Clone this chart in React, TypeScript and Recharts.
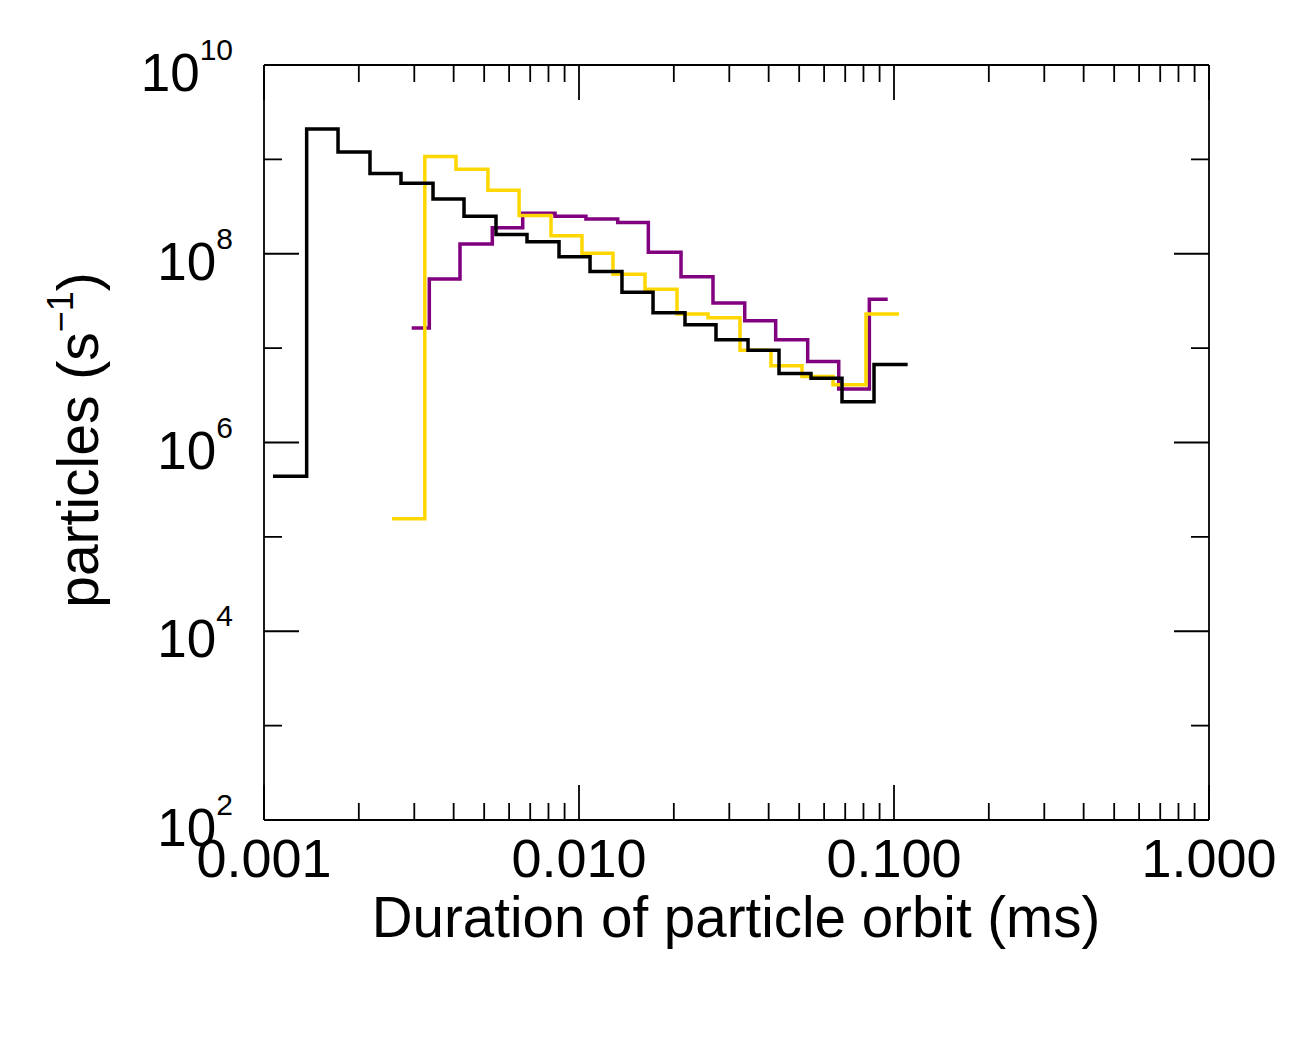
import { Label, Line, LineChart, XAxis, YAxis } from "recharts";

const FONT = "'Liberation Sans', Arial, Helvetica, sans-serif";

// Bin edges (ms) and counts (particles / s).
const blackEdges = [
  0.001068, 0.001366, 0.001718, 0.00217, 0.002722, 0.00344, 0.004315, 0.005451, 0.006838,
  0.008641, 0.01084, 0.01369, 0.01718, 0.0217, 0.02722, 0.0344, 0.04315, 0.05451, 0.06838,
  0.08641, 0.1105,
];
const blackCounts = [
  4.4e5, 2.1e9, 1.2e9, 7.1e8, 5.6e8, 3.8e8, 2.5e8, 1.6e8, 1.34e8, 9.3e7, 6.5e7, 3.9e7, 2.37e7,
  1.77e7, 1.23e7, 9.5e6, 5.4e6, 4.8e6, 2.7e6, 6.7e6,
];

const goldEdges = [
  0.002549, 0.00324, 0.004069, 0.00514, 0.006454, 0.008149, 0.01022, 0.01282, 0.0162, 0.02047,
  0.02568, 0.03244, 0.04069, 0.05104, 0.06403, 0.08149, 0.1037,
];
const goldCounts = [
  1.56e5, 1.07e9, 7.85e8, 4.7e8, 2.55e8, 1.55e8, 1.01e8, 6.05e7, 4.2e7, 2.3e7, 2.1e7, 9.5e6,
  6.5e6, 5.0e6, 4.1e6, 2.3e7,
];

const purpleEdges = [
  0.002944, 0.003348, 0.00419, 0.005306, 0.006627, 0.008392, 0.01052, 0.01327, 0.0166, 0.02108,
  0.02663, 0.03358, 0.04211, 0.05321, 0.06676, 0.08351, 0.09551,
];
const purpleCounts = [
  1.63e7, 5.4e7, 1.27e8, 1.89e8, 2.68e8, 2.5e8, 2.33e8, 2.15e8, 1.04e8, 5.7e7, 3.0e7, 1.95e7,
  1.23e7, 7.2e6, 3.7e6, 3.3e7,
];

const xMajor = [0.001, 0.01, 0.1, 1];
const xTicks = [
  0.001, 0.002, 0.003, 0.004, 0.005, 0.006, 0.007, 0.008, 0.009,
  0.01, 0.02, 0.03, 0.04, 0.05, 0.06, 0.07, 0.08, 0.09,
  0.1, 0.2, 0.3, 0.4, 0.5, 0.6, 0.7, 0.8, 0.9, 1,
];
const yMajor = [1e2, 1e4, 1e6, 1e8, 1e10];
const yTicks = [1e2, 1e3, 1e4, 1e5, 1e6, 1e7, 1e8, 1e9, 1e10];

// one point per left edge, plus the last right edge carrying the last count
function steps(edges: number[], counts: number[]) {
  return edges.map((x, i) => ({ x, y: counts[Math.min(i, counts.length - 1)] }));
}

const TICK = { stroke: "#000", strokeWidth: 1.8 };

function BottomTick({ x, y, payload }: any) {
  const major = xMajor.includes(payload.value);
  return (
    <g>
      <line x1={x} x2={x} y1={y} y2={y - (major ? 35 : 17)} {...TICK} />
      {major && (
        <text x={x} y={y + 57} textAnchor="middle" fontSize={54} fontFamily={FONT} fill="#000">
          {payload.value.toFixed(3)}
        </text>
      )}
    </g>
  );
}

function TopTick({ x, y, payload }: any) {
  const major = xMajor.includes(payload.value);
  return <line x1={x} x2={x} y1={y} y2={y + (major ? 35 : 17)} {...TICK} />;
}

function LeftTick({ x, y, payload }: any) {
  const major = yMajor.includes(payload.value);
  const exp = Math.round(Math.log10(payload.value));
  return (
    <g>
      <line x1={x} x2={x + (major ? 35 : 18)} y1={y} y2={y} {...TICK} />
      {major && (
        <text x={x - 31} y={y + 26} textAnchor="end" fontSize={53} fontFamily={FONT} fill="#000">
          10
          <tspan dy={-31} fontSize={30}>
            {exp}
          </tspan>
        </text>
      )}
    </g>
  );
}

function RightTick({ x, y, payload }: any) {
  const major = yMajor.includes(payload.value);
  return <line x1={x} x2={x - (major ? 35 : 18)} y1={y} y2={y} {...TICK} />;
}

function XTitle() {
  return (
    <text x={736} y={937} textAnchor="middle" fontSize={56.5} fontFamily={FONT} fill="#000">
      Duration of particle orbit (ms)
    </text>
  );
}

function YTitle() {
  return (
    <text
      transform="translate(98, 440) rotate(-90)"
      textAnchor="middle"
      fontSize={57}
      fontFamily={FONT}
      fill="#000"
    >
      particles (s
      <tspan dy={-25} fontSize={36}>
        {"\u22121"}
      </tspan>
      <tspan dy={25}>)</tspan>
    </text>
  );
}

export default function App() {
  const axisLine = { stroke: "#000", strokeWidth: 1.8 };
  return (
    <div style={{ position: "absolute", left: 0, top: 0, background: "#fff" }}>
      <LineChart width={1294} height={1039} margin={{ top: 64, right: 84, bottom: 218, left: 263 }}>
        <XAxis
          xAxisId="bottom"
          dataKey="x"
          type="number"
          scale="log"
          domain={[0.001, 1]}
          allowDataOverflow
          ticks={xTicks}
          interval={0}
          height={1}
          tickSize={0}
          tickMargin={0}
          tickLine={false}
          axisLine={axisLine}
          tick={<BottomTick />}
        >
          <Label content={<XTitle />} />
        </XAxis>
        <XAxis
          xAxisId="top"
          orientation="top"
          dataKey="x"
          type="number"
          scale="log"
          domain={[0.001, 1]}
          allowDataOverflow
          ticks={xTicks}
          interval={0}
          height={1}
          tickSize={0}
          tickMargin={0}
          tickLine={false}
          axisLine={axisLine}
          tick={<TopTick />}
        />
        <YAxis
          yAxisId="left"
          type="number"
          scale="log"
          domain={[1e2, 1e10]}
          allowDataOverflow
          ticks={yTicks}
          interval={0}
          width={1}
          tickSize={0}
          tickMargin={0}
          tickLine={false}
          axisLine={axisLine}
          tick={<LeftTick />}
        >
          <Label content={<YTitle />} />
        </YAxis>
        <YAxis
          yAxisId="right"
          orientation="right"
          type="number"
          scale="log"
          domain={[1e2, 1e10]}
          allowDataOverflow
          ticks={yTicks}
          interval={0}
          width={1}
          tickSize={0}
          tickMargin={0}
          tickLine={false}
          axisLine={axisLine}
          tick={<RightTick />}
        />
        <Line
          data={steps(purpleEdges, purpleCounts)}
          xAxisId="bottom"
          yAxisId="left"
          dataKey="y"
          type="stepAfter"
          stroke="#800080"
          strokeWidth={3.5}
          dot={false}
          isAnimationActive={false}
        />
        <Line
          data={steps(goldEdges, goldCounts)}
          xAxisId="bottom"
          yAxisId="left"
          dataKey="y"
          type="stepAfter"
          stroke="#FFD700"
          strokeWidth={3.5}
          dot={false}
          isAnimationActive={false}
        />
        <Line
          data={steps(blackEdges, blackCounts)}
          xAxisId="bottom"
          yAxisId="left"
          dataKey="y"
          type="stepAfter"
          stroke="#000"
          strokeWidth={3.5}
          dot={false}
          isAnimationActive={false}
        />
      </LineChart>
    </div>
  );
}
